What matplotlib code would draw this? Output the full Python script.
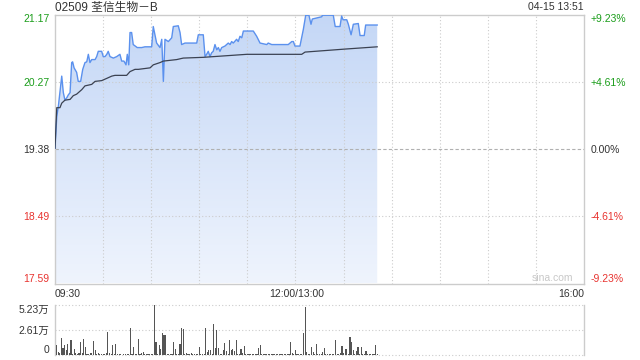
import matplotlib
matplotlib.use('Agg')
import matplotlib.pyplot as plt
import numpy as np
from matplotlib.colors import LinearSegmentedColormap

plt.rcParams['font.family'] = ['Liberation Sans', 'Noto Sans CJK SC', 'DejaVu Sans']

# 价格走势 (分钟序号, 0 = 09:30, 150 = 12:00/13:00, 330 = 16:00)
price_t = [0, 1.1, 2.1, 4.2, 5.2, 6.2, 7.3, 8.3, 9.4, 10.4, 11, 11.9, 13.5, 14.5, 16, 17.3, 18.7, 19.8,
           20.8, 21.8, 22.9, 25, 26, 27, 29.1, 30.1, 31.2, 32.3, 33.2, 34.3, 36.4, 38.5, 40.5, 41.6, 43,
           44.3, 45.1, 46, 46.8, 47.8, 48.8, 51.3, 54.1, 56.1, 60.3, 61.3, 63.4, 65.5, 66.6, 67.6, 68.6,
           70.7, 72.8, 73.8, 76.9, 78, 79, 81.1, 88.4, 89.4, 92.5, 93.6, 94.6, 95.6, 96.7, 97.7, 98.7,
           99.8, 100.9, 101.9, 102.9, 104, 106, 108.1, 109.2, 110.2, 111.2, 113.3, 114.3, 115.4, 116.5,
           117.5, 123.7, 125.8, 127.9, 132.1, 133, 135.2, 145.5, 147.7, 148.7, 149.7, 152.8, 154.9,
           156.4, 158.4, 159.7, 160.5, 166.4, 166.8, 173.6, 174.8, 177.8, 178.8, 179.7, 182, 183,
           184.7, 186.1, 189.2, 190.3, 192.9, 193.8, 201]
price_v = [19.39, 19.81, 19.95, 20.35, 20.13, 20.03, 20.06, 20.10, 20.13, 20.53, 20.54, 20.46, 20.40,
           20.28, 20.28, 20.44, 20.53, 20.54, 20.64, 20.53, 20.57, 20.57, 20.61, 20.68, 20.68, 20.61,
           20.61, 20.64, 20.68, 20.61, 20.59, 20.61, 20.64, 20.55, 20.55, 20.50, 20.64, 20.50, 20.93,
           20.93, 20.77, 20.73, 20.73, 20.74, 20.74, 21.01, 20.79, 20.73, 20.84, 20.28, 20.84, 20.81,
           20.86, 21.01, 21.02, 20.93, 20.77, 20.79, 20.79, 20.90, 20.90, 20.61, 20.64, 20.68, 20.61,
           20.66, 20.68, 20.77, 20.70, 20.73, 20.68, 20.73, 20.75, 20.79, 20.77, 20.81, 20.79, 20.84,
           20.81, 20.88, 20.86, 20.95, 20.95, 20.88, 20.79, 20.77, 20.79, 20.77, 20.77, 20.81, 20.81,
           20.75, 20.75, 20.97, 21.16, 21.16, 21.04, 21.11, 21.14, 21.16, 21.16, 21.01, 21.01, 21.15,
           21.10, 21.10, 21.04, 20.90, 21.04, 21.05, 20.89, 20.89, 21.03, 21.03]

# 均价线
avg_t = [0, 1.1, 3.1, 4.2, 6.2, 9.4, 11.4, 13.5, 16.7, 18.7, 22.9, 25, 29.1, 32.3, 35.4, 37.4, 44.7,
         46.8, 49.9, 52, 59.3, 61.3, 65.5, 67.6, 75.9, 80, 92.5, 119.6, 150.8, 153.9, 156, 181, 201]
avg_v = [19.39, 19.93, 19.93, 19.99, 20.03, 20.04, 20.09, 20.11, 20.17, 20.22, 20.24, 20.28, 20.29,
         20.32, 20.35, 20.36, 20.36, 20.41, 20.44, 20.44, 20.46, 20.50, 20.53, 20.55, 20.57, 20.59,
         20.60, 20.64, 20.64, 20.64, 20.67, 20.71, 20.74]

# 成交量 (万股), 每分钟一根
volume = [0, 1.03, 0.34, 0.24, 1.79, 0.69, 1.03, 0.52, 1.10, 0.24,
          1.58, 0.07, 0.65, 0.24, 0.14, 0.24, 1.38, 0.24, 1.69, 0.86,
          0.14, 0.07, 0.24, 0.24, 1.48, 0.55, 0.07, 0.21, 0.14, 0.10,
          0.07, 0.14, 0.24, 2.41, 0.24, 0.14, 1.07, 0.14, 1.17, 0.14,
          0.14, 0.10, 0.03, 0.07, 0.07, 0.10, 0.14, 2.82, 0.14, 0.86,
          0.10, 0.10, 1.69, 0.14, 0.24, 0.34, 0.14, 0.14, 0.14, 0.07,
          0.07, 0.14, 5.23, 1.38, 0.07, 1.03, 0.58, 2.31, 2.06, 2.10,
          0.14, 0.10, 0.07, 0.14, 1.38, 0.65, 0.07, 0.10, 1.17, 2.82,
          2.65, 0.07, 0.24, 0.14, 0.07, 0.24, 0.07, 0.07, 0.07, 0.07,
          0.86, 0.07, 0.07, 0.07, 2.75, 0.34, 0.55, 0.55, 0.07, 3.17,
          0.76, 2.62, 0.69, 0.07, 0.14, 0.48, 1.27, 0.41, 0.14, 1.58,
          0.48, 0.58, 0.41, 1.58, 0.14, 0.14, 0.58, 0.24, 0.96, 0.07,
          0.14, 0.07, 0.07, 0.07, 0.07, 0.07, 0.07, 0.76, 1.07, 0.14,
          0.07, 0.07, 0.07, 0.07, 0.07, 0.10, 0.14, 0.07, 0.07, 0.07,
          0.14, 0.07, 0.07, 0.07, 0.07, 0.14, 0.14, 1.38, 0.24, 0.14,
          0.55, 0.14, 0.10, 0.07, 0.14, 2.31, 4.96, 0.34, 0.14, 0.07,
          0.86, 0.34, 0.14, 1.17, 0.14, 0.07, 0.14, 0.34, 0.69, 0.14,
          0.07, 0.14, 0.07, 0.14, 0.07, 1.58, 0.14, 0.07, 0.24, 0.93,
          0.24, 0.65, 0.65, 0.07, 1.86, 1.38, 0.55, 0.14, 0.41, 0.86,
          0.07, 0.86, 0.07, 0.14, 0.41, 0.14, 0.07, 0.07, 0.07, 0.07,
          1.03, 0.07]

prev_close = 19.38
price_ticks = [17.59, 18.49, 19.38, 20.27, 21.17]
price_labels = ['17.59', '18.49', '19.38', '20.27', '21.17']
pct_labels = ['-9.23%', '-4.61%', '0.00%', '+4.61%', '+9.23%']
vol_ticks = [0, 2.61, 5.23]
vol_labels = ['0', '2.61万', '5.23万']
time_labels = ['09:30', '12:00/13:00', '16:00']

GREEN, RED, DARK, GRID = '#1a9d1a', '#e8332f', '#333333', '#cccccc'

W, H = 640, 360
def box(l, t, r, b):
    return [l / W, 1 - b / H, (r - l) / W, (b - t) / H]

fig = plt.figure(figsize=(6.4, 3.6), dpi=100)
ax = fig.add_axes(box(55, 14.5, 584, 283.5))

# 渐变填充
cmap = LinearSegmentedColormap.from_list('fill', ['#c4d7f6', '#eff4fd'])
grad = np.linspace(0, 1, 256).reshape(-1, 1)
im = ax.imshow(grad, extent=[0, 330, price_ticks[0], price_ticks[-1]], aspect='auto',
               cmap=cmap, origin='upper', zorder=1)
poly = ax.fill_between(price_t, price_v, price_ticks[0], color='none', lw=0)
im.set_clip_path(poly.get_paths()[0], transform=ax.transData)

ax.plot(price_t, price_v, color='#5b91ee', lw=1.0, zorder=4)
ax.plot(avg_t, avg_v, color='#3b4252', lw=0.9, zorder=4)

ax.set_xlim(0, 330)
ax.set_ylim(price_ticks[0], price_ticks[-1])

for x in range(30, 330, 30):
    ax.axvline(x, color=GRID, lw=0.8, ls=(0, (1, 2)), zorder=2)
for y in [18.49, 20.27]:
    ax.axhline(y, color=GRID, lw=0.8, ls=(0, (1, 2)), zorder=2)
ax.axhline(prev_close, color='#b0b0b0', lw=0.8, ls=(0, (3, 2)), zorder=2)

for s in ax.spines.values():
    s.set_color(GRID)
    s.set_linewidth(1)

ax.set_xticks([])
ax.set_yticks(price_ticks)
ax.set_yticklabels(price_labels)
ax.tick_params(axis='y', length=0, pad=4, labelsize=7.5)
colors = [RED, RED, DARK, GREEN, GREEN]
for lab, c in zip(ax.get_yticklabels(), colors):
    lab.set_color(c)
ax.get_yticklabels()[0].set_va('bottom')
ax.get_yticklabels()[-1].set_va('top')

ax2 = ax.twinx()
ax2.set_ylim(price_ticks[0], price_ticks[-1])
ax2.set_yticks(price_ticks)
ax2.set_yticklabels(pct_labels)
ax2.tick_params(axis='y', length=0, pad=5, labelsize=7.5)
for lab, c in zip(ax2.get_yticklabels(), colors):
    lab.set_color(c)
ax2.get_yticklabels()[0].set_va('bottom')
ax2.get_yticklabels()[-1].set_va('top')
for s in ax2.spines.values():
    s.set_visible(False)

# 成交量
axv = fig.add_axes(box(55, 304.5, 584, 355))
axv.bar(range(len(volume)), volume, width=0.7, color='#555555', zorder=3)
axv.set_xlim(0, 330)
axv.set_ylim(vol_ticks[0], vol_ticks[-1])
for y in vol_ticks:
    axv.axhline(y, color=GRID, lw=0.8, ls=(0, (1, 2)), zorder=2, clip_on=False)
axv.spines['top'].set_visible(False)
axv.spines['bottom'].set_visible(False)
for k in ['left', 'right']:
    axv.spines[k].set_color(GRID)
    axv.spines[k].set_linewidth(1)
axv.set_xticks([])
axv.set_yticks(vol_ticks)
axv.set_yticklabels(vol_labels)
axv.tick_params(axis='y', length=0, pad=4, labelsize=7.5, labelcolor=DARK)
axv.get_yticklabels()[0].set_va('bottom')
axv.get_yticklabels()[-1].set_va('top')

# 文字
fig.text(55 / W, 1 - 8 / H, '02509 荃信生物－B', ha='left', va='center', fontsize=8.5, color=DARK)
fig.text(584 / W, 1 - 7.5 / H, '04-15 13:51', ha='right', va='center', fontsize=7.5, color=DARK)
fig.text(55 / W, 1 - 294 / H, time_labels[0], ha='left', va='center', fontsize=7.5, color=DARK)
fig.text(297 / W, 1 - 294 / H, time_labels[1], ha='center', va='center', fontsize=7.5, color=DARK)
fig.text(584 / W, 1 - 294 / H, time_labels[2], ha='right', va='center', fontsize=7.5, color=DARK)
fig.text(552 / W, 1 - 278 / H, 'sina.com', ha='center', va='center', fontsize=7.5, color='#c8c8c8')

fig.savefig('out.png', dpi=100)
